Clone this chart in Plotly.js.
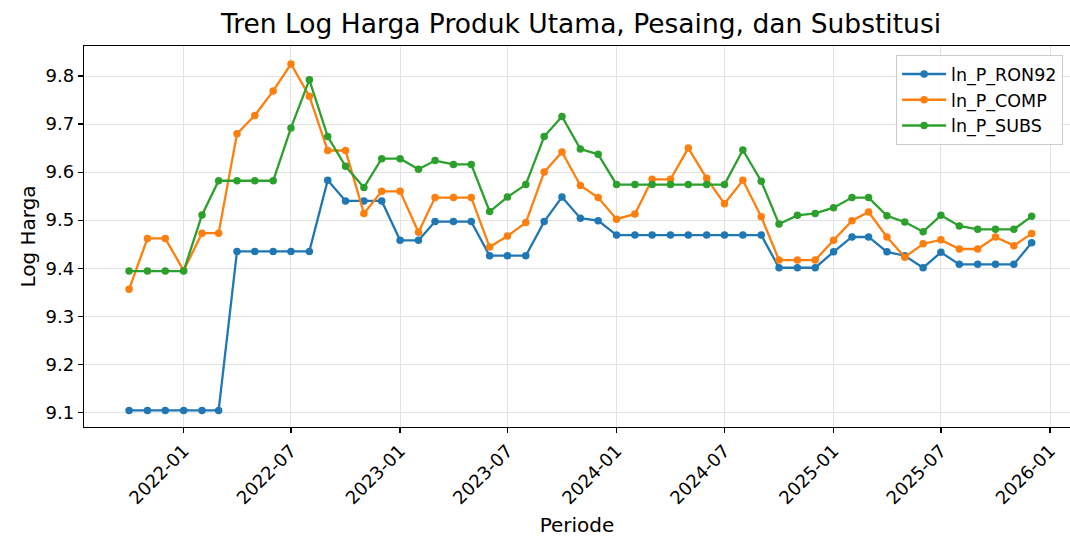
<!DOCTYPE html>
<html>
<head>
<meta charset="utf-8">
<script src="https://cdn.plot.ly/plotly-3.0.1.min.js"></script>
<style>
html, body { margin: 0; padding: 0; background: #fff; overflow: hidden; }
#chart { width: 1070px; height: 537px; }
</style>
</head>
<body>
<div id="chart"></div>
<script>
const periods = [
  "2021-10-01","2021-11-01","2021-12-01",
  "2022-01-01","2022-02-01","2022-03-01","2022-04-01","2022-05-01","2022-06-01",
  "2022-07-01","2022-08-01","2022-09-01","2022-10-01","2022-11-01","2022-12-01",
  "2023-01-01","2023-02-01","2023-03-01","2023-04-01","2023-05-01","2023-06-01",
  "2023-07-01","2023-08-01","2023-09-01","2023-10-01","2023-11-01","2023-12-01",
  "2024-01-01","2024-02-01","2024-03-01","2024-04-01","2024-05-01","2024-06-01",
  "2024-07-01","2024-08-01","2024-09-01","2024-10-01","2024-11-01","2024-12-01",
  "2025-01-01","2025-02-01","2025-03-01","2025-04-01","2025-05-01","2025-06-01",
  "2025-07-01","2025-08-01","2025-09-01","2025-10-01","2025-11-01","2025-12-01"
];

const ln_P_RON92 = [
  9.104, 9.104, 9.104,
  9.104, 9.104, 9.104, 9.435, 9.435, 9.435,
  9.435, 9.435, 9.583, 9.540, 9.540, 9.540,
  9.458, 9.458, 9.497, 9.497, 9.497, 9.426,
  9.426, 9.426, 9.497, 9.548, 9.504, 9.499,
  9.469, 9.469, 9.469, 9.469, 9.469, 9.469,
  9.469, 9.469, 9.469, 9.401, 9.401, 9.401,
  9.434, 9.465, 9.465, 9.434, 9.426, 9.401,
  9.433, 9.408, 9.408, 9.408, 9.408, 9.453
];

const ln_P_COMP = [
  9.356, 9.462, 9.462,
  9.395, 9.473, 9.473, 9.680, 9.718, 9.769,
  9.825, 9.758, 9.645, 9.645, 9.514, 9.560,
  9.560, 9.475, 9.547, 9.547, 9.547, 9.444,
  9.467, 9.495, 9.600, 9.642, 9.572, 9.547,
  9.502, 9.513, 9.585, 9.585, 9.650, 9.587,
  9.534, 9.583, 9.507, 9.417, 9.417, 9.417,
  9.458, 9.499, 9.517, 9.465, 9.423, 9.451,
  9.459, 9.440, 9.440, 9.465, 9.447, 9.472
];

const ln_P_SUBS = [
  9.394, 9.394, 9.394,
  9.394, 9.511, 9.582, 9.582, 9.582, 9.582,
  9.692, 9.792, 9.674, 9.612, 9.568, 9.628,
  9.628, 9.606, 9.624, 9.616, 9.616, 9.518,
  9.548, 9.574, 9.674, 9.716, 9.648, 9.637,
  9.574, 9.574, 9.574, 9.574, 9.574, 9.574,
  9.574, 9.646, 9.581, 9.492, 9.510, 9.514,
  9.526, 9.547, 9.547, 9.509, 9.496, 9.476,
  9.510, 9.488, 9.481, 9.481, 9.481, 9.508
];

const seriesNames = ["ln_P_RON92", "ln_P_COMP", "ln_P_SUBS"];
const seriesColors = ["#1f77b4", "#ff7f0e", "#2ca02c"];
const seriesValues = [ln_P_RON92, ln_P_COMP, ln_P_SUBS];

const FONT = "DejaVu Sans, Liberation Sans, sans-serif";

const traces = seriesValues.map((vals, i) => ({
  type: "scatter",
  mode: "lines+markers",
  name: seriesNames[i],
  x: periods,
  y: vals,
  line: { color: seriesColors[i], width: 2.3 },
  marker: { color: seriesColors[i], size: 7.5, symbol: "circle" }
}));

const layout = {
  width: 1070,
  height: 537,
  paper_bgcolor: "#ffffff",
  plot_bgcolor: "#ffffff",
  margin: { l: 84, r: 0, t: 46, b: 110, pad: 0 },
  font: { family: FONT, color: "#000", size: 18 },
  title: {
    text: "Tren Log Harga Produk Utama, Pesaing, dan Substitusi",
    font: { family: FONT, size: 26.5, color: "#000" },
    xref: "container", x: 581 / 1070, xanchor: "center",
    yref: "container", y: 1 - 24 / 537, yanchor: "middle"
  },
  xaxis: {
    type: "date",
    range: ["2021-07-17", "2026-02-03 16:00"],
    tick0: "2022-01-01",
    dtick: "M6",
    tickformat: "%Y-%m",
    tickangle: -45,
    ticks: "outside",
    ticklen: 5,
    tickwidth: 1.2,
    tickcolor: "#000",
    tickfont: { family: FONT, size: 18, color: "#000" },
    showgrid: true,
    gridcolor: "#e3e3e3",
    gridwidth: 1,
    showline: true,
    linecolor: "#000",
    linewidth: 1.3,
    mirror: true,
    zeroline: false,
    title: { text: "Periode", font: { family: FONT, size: 20, color: "#000" }, standoff: 10 }
  },
  yaxis: {
    range: [9.0695, 9.8625],
    tickvals: [9.1, 9.2, 9.3, 9.4, 9.5, 9.6, 9.7, 9.8],
    ticktext: ["9.1", "9.2", "9.3", "9.4", "9.5", "9.6", "9.7", "9.8"],
    ticks: "outside",
    ticklen: 5,
    tickwidth: 1.2,
    tickcolor: "#000",
    tickfont: { family: FONT, size: 18, color: "#000" },
    showgrid: true,
    gridcolor: "#e3e3e3",
    gridwidth: 1,
    showline: true,
    linecolor: "#000",
    linewidth: 1.3,
    mirror: false,
    zeroline: false,
    title: { text: "Log Harga", font: { family: FONT, size: 20, color: "#000" }, standoff: 4 }
  },
  legend: {
    x: 0.993, xanchor: "right",
    y: 0.976, yanchor: "top",
    bgcolor: "rgba(255,255,255,0.85)",
    bordercolor: "#cccccc",
    borderwidth: 1,
    font: { family: FONT, size: 17.5, color: "#000" },
    itemwidth: 44,
    tracegroupgap: 0
  },
  showlegend: true
};

Plotly.newPlot("chart", traces, layout, { displayModeBar: false, staticPlot: true });
</script>
</body>
</html>
